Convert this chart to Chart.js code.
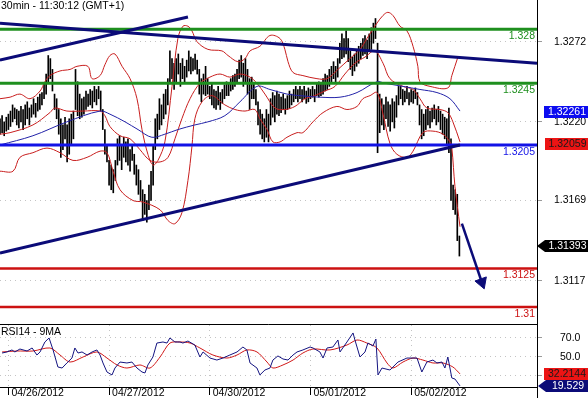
<!DOCTYPE html>
<html><head><meta charset="utf-8">
<script src="https://cdn.jsdelivr.net/npm/chart.js@4.4.0/dist/chart.umd.min.js"></script>
<style>
html,body{margin:0;padding:0;background:#fff;}
#wrap{position:relative;width:588px;height:398px;overflow:hidden;background:#fff;}
#c1{position:absolute;left:0;top:0;}
#c2{position:absolute;left:0;top:325px;}
</style></head><body>
<div id="wrap">
<canvas id="c1" width="588" height="325"></canvas>
<canvas id="c2" width="588" height="73"></canvas>
</div>
<script>
// ---------------- DATA ----------------
const chartTitle = '30min - 11:30:12 (GMT+1)';
const rsiTitle = 'RSI14 - 9MA';
const dayTickBars = [4, 52, 100, 148, 196];
const dayLabels = ['04/26/2012', '04/27/2012', '04/30/2012', '05/01/2012', '05/02/2012'];
const priceTicks = [1.3117, 1.3169, 1.3220, 1.3272];
const rsiTicks = [30, 50, 70];

const barHigh = [
1.3222,1.3224,1.3220,1.3223,1.3225,1.3227,1.3231,1.3229,1.3228,1.3227,
1.3230,1.3228,1.3231,1.3233,1.3229,1.3231,1.3235,1.3232,1.3236,1.3238,
1.3239,1.3245,1.3251,1.3263,1.3261,1.3254,1.3238,1.3235,1.3228,1.3222,
1.3218,1.3223,1.3218,1.3222,1.3225,1.3227,1.3254,1.3246,1.3238,1.3235,
1.3236,1.3240,1.3238,1.3241,1.3240,1.3243,1.3241,1.3243,1.3240,1.3228,
1.3215,1.3205,1.3195,1.3192,1.3189,1.3195,1.3209,1.3211,1.3205,1.3210,
1.3207,1.3209,1.3202,1.3205,1.3199,1.3192,1.3189,1.3182,1.3176,1.3173,
1.3169,1.3179,1.3188,1.3205,1.3222,1.3225,1.3235,1.3231,1.3238,1.3241,
1.3248,1.3266,1.3261,1.3258,1.3261,1.3264,1.3258,1.3261,1.3256,1.3260,
1.3266,1.3262,1.3261,1.3264,1.3260,1.3254,1.3248,1.3251,1.3256,1.3248,
1.3243,1.3245,1.3241,1.3240,1.3243,1.3239,1.3241,1.3244,1.3246,1.3245,
1.3248,1.3250,1.3251,1.3254,1.3260,1.3263,1.3258,1.3261,1.3254,1.3248,
1.3249,1.3245,1.3241,1.3233,1.3228,1.3225,1.3222,1.3228,1.3225,1.3235,
1.3239,1.3237,1.3240,1.3238,1.3236,1.3238,1.3235,1.3237,1.3240,1.3238,
1.3241,1.3243,1.3241,1.3243,1.3241,1.3243,1.3240,1.3242,1.3241,1.3243,
1.3241,1.3245,1.3246,1.3245,1.3248,1.3251,1.3250,1.3254,1.3256,1.3259,
1.3256,1.3261,1.3271,1.3277,1.3274,1.3279,1.3274,1.3266,1.3262,1.3264,
1.3267,1.3269,1.3271,1.3274,1.3276,1.3273,1.3277,1.3281,1.3284,1.3287,
1.3271,1.3238,1.3235,1.3231,1.3236,1.3233,1.3231,1.3235,1.3233,1.3237,
1.3243,1.3243,1.3241,1.3240,1.3243,1.3239,1.3241,1.3240,1.3242,1.3239,
1.3231,1.3228,1.3225,1.3228,1.3230,1.3227,1.3229,1.3231,1.3228,1.3230,
1.3227,1.3225,1.3223,1.3222,1.3229,1.3209,1.3179,1.3176,1.3173,1.3146
];
const barLow = [
1.3212,1.3213,1.3211,1.3214,1.3215,1.3217,1.3220,1.3222,1.3218,1.3216,
1.3220,1.3215,1.3218,1.3222,1.3218,1.3223,1.3225,1.3223,1.3227,1.3228,
1.3231,1.3235,1.3238,1.3245,1.3248,1.3240,1.3228,1.3222,1.3212,1.3197,
1.3202,1.3209,1.3194,1.3199,1.3205,1.3209,1.3228,1.3224,1.3222,1.3223,
1.3225,1.3228,1.3230,1.3231,1.3229,1.3233,1.3231,1.3235,1.3227,1.3215,
1.3199,1.3194,1.3179,1.3176,1.3174,1.3182,1.3192,1.3195,1.3189,1.3197,
1.3194,1.3192,1.3188,1.3195,1.3186,1.3179,1.3173,1.3169,1.3156,1.3160,
1.3155,1.3163,1.3169,1.3179,1.3202,1.3209,1.3215,1.3218,1.3222,1.3225,
1.3231,1.3246,1.3248,1.3241,1.3245,1.3251,1.3243,1.3248,1.3245,1.3249,
1.3253,1.3251,1.3253,1.3254,1.3251,1.3238,1.3233,1.3238,1.3237,1.3238,
1.3235,1.3231,1.3229,1.3228,1.3231,1.3228,1.3232,1.3235,1.3237,1.3237,
1.3240,1.3241,1.3243,1.3245,1.3248,1.3249,1.3243,1.3246,1.3238,1.3228,
1.3235,1.3235,1.3231,1.3218,1.3212,1.3209,1.3207,1.3210,1.3207,1.3218,
1.3223,1.3220,1.3225,1.3224,1.3226,1.3228,1.3225,1.3228,1.3229,1.3231,
1.3233,1.3235,1.3233,1.3235,1.3233,1.3235,1.3232,1.3233,1.3235,1.3236,
1.3233,1.3237,1.3236,1.3237,1.3238,1.3240,1.3241,1.3243,1.3245,1.3248,
1.3246,1.3249,1.3258,1.3261,1.3262,1.3264,1.3259,1.3254,1.3250,1.3253,
1.3256,1.3258,1.3261,1.3263,1.3264,1.3261,1.3266,1.3267,1.3271,1.3274,
1.3200,1.3213,1.3218,1.3215,1.3222,1.3217,1.3214,1.3220,1.3216,1.3223,
1.3231,1.3235,1.3231,1.3233,1.3235,1.3231,1.3233,1.3232,1.3235,1.3231,
1.3218,1.3209,1.3211,1.3215,1.3218,1.3216,1.3220,1.3222,1.3218,1.3220,
1.3215,1.3212,1.3209,1.3205,1.3200,1.3169,1.3163,1.3160,1.3143,1.3133
];

const bbUpper = [[0,1.3235],[4.8,1.3236],[9.5,1.3238],[14.3,1.3235],[19.1,1.3240],[21.4,1.3246],[23.8,1.3250],[28.6,1.3253],[33.4,1.3254],[36.7,1.3256],[41.9,1.3256],[43.9,1.3248],[47.7,1.3250],[50,1.3257],[52.4,1.3263],[54.8,1.3264],[58.2,1.3256],[62,1.3248],[65.3,1.3235],[67.7,1.3215],[70.5,1.3199],[72.9,1.3192],[75.3,1.3195],[78.6,1.3207],[82,1.3243],[84.8,1.3274],[87.2,1.3282],[89.6,1.3282],[91.5,1.3279],[93.9,1.3272],[99.1,1.3267],[105.8,1.3266],[108.7,1.3263],[113.4,1.3259],[116.8,1.3261],[119.2,1.3266],[123.9,1.3269],[128.7,1.3276],[133.5,1.3274],[135.8,1.3267],[137.3,1.3259],[139.7,1.3252],[144.4,1.3250],[151.1,1.3248],[155.9,1.3248],[161.1,1.3254],[166.8,1.3261],[171.6,1.3267],[174.9,1.3274],[177.3,1.3279],[179.7,1.3284],[182.6,1.3289],[184.9,1.3291],[187.3,1.3289],[190.7,1.3282],[194,1.3279],[196.9,1.3269],[199.2,1.3256],[200.2,1.3246],[205,1.3243],[213.5,1.3242],[215.4,1.3250],[218.3,1.3262]];
const bbMiddle = [[0,1.3212],[4.8,1.3213],[15.7,1.3218],[23.8,1.3226],[26.2,1.3229],[31.9,1.3227],[39.6,1.3227],[47.7,1.3227],[50,1.3224],[52.4,1.3217],[57.2,1.3211],[62,1.3209],[66.7,1.3202],[71.5,1.3195],[76.3,1.3194],[80.1,1.3197],[83.4,1.3209],[86.7,1.3222],[90.6,1.3235],[95.3,1.3245],[100.1,1.3249],[104.9,1.3251],[109.6,1.3249],[114.4,1.3251],[119.2,1.3249],[122.5,1.3245],[126.3,1.3238],[131.1,1.3229],[135.8,1.3228],[140.6,1.3230],[145.4,1.3235],[150.1,1.3237],[154.9,1.3240],[159.7,1.3243],[164.4,1.3251],[169.2,1.3258],[174,1.3262],[178.7,1.3266],[182.6,1.3258],[185.9,1.3248],[192.1,1.3243],[196.9,1.3241],[200.2,1.3235],[203.5,1.3229],[209.7,1.3228],[213.5,1.3226],[215.9,1.3220],[219.3,1.3207]];
const bbLower = [[0,1.3188],[6.2,1.3188],[9.5,1.3197],[15.7,1.3200],[22.4,1.3203],[28.6,1.3200],[34.8,1.3195],[41.5,1.3197],[47.7,1.3201],[51,1.3200],[53.9,1.3188],[57.2,1.3176],[63.4,1.3169],[68.2,1.3168],[76.3,1.3163],[80.1,1.3156],[83.4,1.3154],[86.7,1.3161],[89.6,1.3182],[91.5,1.3204],[92.9,1.3222],[96.3,1.3233],[101,1.3237],[107.2,1.3231],[112,1.3228],[116.8,1.3227],[121.5,1.3228],[123.9,1.3222],[127.3,1.3215],[130.1,1.3207],[133.5,1.3207],[136.8,1.3210],[141.6,1.3213],[144.4,1.3213],[149.2,1.3220],[154,1.3226],[160.6,1.3230],[165.4,1.3228],[170.2,1.3230],[173,1.3235],[176.4,1.3237],[179.7,1.3239],[182.6,1.3225],[185.9,1.3206],[189.2,1.3199],[194,1.3197],[196.9,1.3201],[201.6,1.3213],[206.4,1.3214],[211.2,1.3212],[214.5,1.3207],[215.4,1.3203],[216.9,1.3178],[219.3,1.3152]];
const maBlue = [[0,1.3205],[15.7,1.3211],[31.9,1.3220],[47.7,1.3227],[52.4,1.3225],[59.6,1.3220],[65.8,1.3215],[72.4,1.3210],[78.6,1.3212],[84.8,1.3215],[92.9,1.3218],[99.1,1.3220],[107.2,1.3224],[114.4,1.3233],[122.5,1.3243],[128.7,1.3241],[136.8,1.3238],[143,1.3237],[152.5,1.3236],[162.1,1.3236],[170.2,1.3239],[179.7,1.3246],[183.5,1.3245],[192.1,1.3243],[200.2,1.3241],[208.3,1.3239],[214.5,1.3235],[219.3,1.3227]];

const levelValues = [1.328, 1.3245, 1.3205, 1.3125, 1.31];
const levelLabels = ['1.328', '1.3245', '1.3205', '1.3125', '1.31'];
const trendDown = [[0,1.3284],[256,1.3258]];
const trendUpLow = [[0,1.3135],[219.3,1.3205]];
const trendUpHigh = [[0,1.3260],[89.6,1.3288]];
const arrowPath = [[220.2,1.3154],[229.7,1.3116]];
const lastMarkers = {blueMark: 1.32261, redMark: 1.32059, lastPrice: 1.31393};

const rsi = [[1,54.2],[3.3,55.3],[5.7,57.4],[7.1,55.3],[9.5,58.4],[12.9,56.3],[15.3,59.5],[17.6,52.1],[19.1,55.3],[21.4,65.8],[23.4,70.0],[25.3,57.4],[27.6,39.5],[29.6,38.4],[31.9,43.7],[34.3,48.9],[35.7,59.5],[37.2,54.2],[39.1,55.3],[41.5,52.1],[43.9,55.3],[46.2,57.4],[47.7,52.1],[49.1,43.7],[51,34.2],[53.4,31.1],[54.8,38.4],[57.2,44.7],[60.5,43.7],[62.9,44.7],[65.3,38.4],[67.7,34.2],[69.1,33.2],[70.5,41.6],[72.9,50.0],[74.8,64.7],[77.7,65.8],[79.6,64.7],[81,70.0],[83.4,65.8],[85.8,65.8],[87.2,64.7],[89.6,66.8],[92.9,62.6],[95.3,50.0],[96.8,55.3],[100.1,48.9],[103.4,46.8],[106.3,48.9],[109.6,52.1],[113,55.3],[115.8,60.5],[117.7,57.4],[119.2,43.7],[122.5,38.4],[123.9,31.1],[126.3,36.3],[128.7,38.4],[130.1,46.8],[132.5,51.1],[134.9,47.9],[137.3,46.8],[139.7,52.1],[141.6,55.3],[144.4,57.4],[147.8,60.5],[149.2,59.5],[152.5,55.3],[154,48.9],[155.9,59.5],[158.7,60.5],[161.1,67.9],[162.1,55.3],[165.4,65.8],[168.3,75.3],[169.2,67.9],[171.6,50.0],[174,55.3],[175.4,64.7],[177.8,61.6],[179.2,68.9],[180.2,31.1],[182.1,38.4],[185.9,36.3],[189.7,44.7],[194,48.9],[198.8,48.9],[201.1,34.2],[203.5,44.7],[206.4,46.8],[208.3,43.7],[210.7,44.7],[212.1,38.4],[213.5,50.0],[215.4,27.9],[216.9,26.8],[218.3,22.6],[219.3,19.529]];
const rsiMA = [[1,55.3],[8.1,56.3],[15.7,56.3],[23.8,59.5],[28.6,52.1],[33.4,44.7],[39.6,50.0],[46.2,55.3],[51,48.9],[55.8,41.6],[60.5,38.4],[66.7,41.6],[71.5,38.4],[76.3,50.0],[81,64.7],[85.8,65.8],[90.6,64.7],[95.3,59.5],[101.5,52.1],[108.2,48.9],[113,52.1],[117.7,57.4],[122.5,55.3],[127.3,44.7],[130.1,38.4],[134.9,41.6],[139.7,46.8],[144.4,54.2],[149.2,58.4],[157.3,57.4],[165.4,62.6],[170.2,67.9],[174.9,64.7],[179.7,59.5],[184.5,43.7],[187.3,38.4],[192.1,44.7],[196.9,48.9],[201.6,46.8],[206.4,43.7],[211.2,43.7],[215.9,39.5],[219.3,32.2144]];
const rsiLastValues = {rsi: 19.529, ma: 32.2144};

// ---------------- STYLE ----------------
const FONT = "10.5px 'Liberation Sans', Arial, sans-serif";
Chart.defaults.font.family = "'Liberation Sans', Arial, sans-serif";
Chart.defaults.font.size = 10.5;
Chart.defaults.color = '#000';
const X_MIN = 0, X_MAX = 256;
const levelColors = ['#1e8f1e', '#1e8f1e', '#1212e6', '#cc1111', '#cc1111'];
const levelWidths = [3, 3, 3, 2.5, 2.5];
const NAVY = '#0b0b78';
const pts = a => a.map(([x, y]) => ({x, y}));

function tagBox(ctx, yC, text, fill, textColor, bodyLeft, tipX) {
  const right = 588, h = 12, top = Math.round(yC - h / 2);
  ctx.save();
  ctx.fillStyle = fill;
  ctx.beginPath();
  if (tipX != null) {
    ctx.moveTo(tipX, top + h / 2);
    ctx.lineTo(bodyLeft, top);
    ctx.lineTo(right, top);
    ctx.lineTo(right, top + h);
    ctx.lineTo(bodyLeft, top + h);
  } else {
    ctx.rect(bodyLeft, top, right - bodyLeft, h);
  }
  ctx.closePath();
  ctx.fill();
  ctx.fillStyle = textColor;
  ctx.font = FONT;
  ctx.textAlign = 'center';
  ctx.textBaseline = 'middle';
  ctx.fillText(text, (bodyLeft + right) / 2 + 1, top + h / 2 + 0.5);
  ctx.restore();
}

// ---------------- MAIN CHART ----------------
const lineDs = (data, color, width, order, extra) => Object.assign({
  type: 'line', data: pts(data), borderColor: color, borderWidth: width,
  pointRadius: 0, fill: false, order: order, tension: 0
}, extra || {});

const mainDatasets = [
  {type: 'bar', data: barHigh.map((h, i) => ({x: i, y: [barLow[i], h]})),
   backgroundColor: '#000', borderWidth: 0, barThickness: 1, order: 20, grouped: false},
  lineDs(bbUpper, '#c81e1e', 1, 15, {tension: 0.35}),
  lineDs(bbMiddle, '#c81e1e', 1, 15, {tension: 0.35}),
  lineDs(bbLower, '#c81e1e', 1, 15, {tension: 0.35}),
  lineDs(maBlue, '#2222a8', 1, 14, {tension: 0.35}),
];
levelValues.forEach((v, k) => {
  mainDatasets.push(lineDs([[X_MIN, v], [X_MAX, v]], levelColors[k], levelWidths[k], 5));
});
mainDatasets.push(lineDs(trendDown, NAVY, 3, 3));
mainDatasets.push(lineDs(trendUpLow, NAVY, 3, 3));
mainDatasets.push(lineDs(trendUpHigh, NAVY, 3, 3));
mainDatasets.push(lineDs(arrowPath, NAVY, 2.5, 2, {
  pointRadius: [0, 7], pointStyle: 'triangle', pointRotation: 160,
  pointBackgroundColor: NAVY, pointBorderColor: NAVY, pointBorderWidth: 1
}));

const mainPlugin = {
  id: 'mainDecor',
  afterDraw(chart) {
    const {ctx, scales: {y}, chartArea} = chart;
    ctx.save();
    ctx.font = FONT; ctx.fillStyle = '#000'; ctx.textAlign = 'left'; ctx.textBaseline = 'middle';
    ctx.fillText(chartTitle, 1, 6);
    ctx.textAlign = 'right';
    levelValues.forEach((v, k) => {
      ctx.fillStyle = levelColors[k];
      ctx.fillText(levelLabels[k], chartArea.right - 2, y.getPixelForValue(v) + 7);
    });
    ctx.strokeStyle = '#000'; ctx.lineWidth = 1;
    ctx.beginPath(); ctx.moveTo(0, 324.5); ctx.lineTo(chartArea.right + 0.5, 324.5); ctx.stroke();
    ctx.restore();
    tagBox(ctx, y.getPixelForValue(lastMarkers.blueMark), '1.32261', '#0c0cf0', '#fff', 544);
    tagBox(ctx, y.getPixelForValue(lastMarkers.redMark), '1.32059', '#ec1414', '#1a1a1a', 545);
    tagBox(ctx, y.getPixelForValue(lastMarkers.lastPrice), '1.31393', '#000', '#fff', 545, 537);
  }
};

new Chart(document.getElementById('c1'), {
  type: 'bar',
  data: {datasets: mainDatasets},
  options: {
    responsive: false, animation: false, events: [],
    layout: {padding: 0, autoPadding: false},
    plugins: {legend: {display: false}, tooltip: {enabled: false}},
    scales: {
      x: {type: 'linear', min: X_MIN, max: X_MAX, offset: false, display: false},
      y: {
        position: 'right', min: 1.30883, max: 1.3299,
        afterBuildTicks: s => { s.ticks = priceTicks.map(v => ({value: v})); },
        afterFit: s => { s.width = 51; s.paddingTop = 0; s.paddingBottom = 0; },
        ticks: {padding: 12, callback: v => v.toFixed(4), font: {size: 10.5}},
        grid: {color: '#c4c4c4', tickColor: '#9a9a9a', tickLength: 5, lineWidth: 1},
        border: {color: '#000', dash: [1, 4]}
      }
    }
  },
  plugins: [mainPlugin]
});

// ---------------- RSI CHART ----------------
const rsiPlugin = {
  id: 'rsiDecor',
  afterDraw(chart) {
    const {ctx, scales: {x, y}, chartArea} = chart;
    ctx.save();
    ctx.font = FONT; ctx.fillStyle = '#000'; ctx.textBaseline = 'middle'; ctx.textAlign = 'left';
    ctx.fillText(rsiTitle, 1, 7.5);
    dayTickBars.forEach((b, k) => {
      ctx.fillText(dayLabels[k], x.getPixelForValue(b) + 3, 68.5);
    });
    ctx.strokeStyle = '#000'; ctx.lineWidth = 1;
    ctx.beginPath(); ctx.moveTo(chartArea.right + 0.5, chartArea.bottom); ctx.lineTo(chartArea.right + 0.5, 73); ctx.stroke();
    ctx.restore();
    tagBox(ctx, y.getPixelForValue(rsiLastValues.ma), '32.2144', '#ec1414', '#1a1a1a', 544);
    tagBox(ctx, y.getPixelForValue(rsiLastValues.rsi), '19.529', NAVY, '#fff', 546, 538);
  }
};

new Chart(document.getElementById('c2'), {
  type: 'line',
  data: {datasets: [
    {data: pts(rsi), borderColor: '#141480', borderWidth: 1, pointRadius: 0, tension: 0, order: 1},
    {data: pts(rsiMA), borderColor: '#d01818', borderWidth: 1, pointRadius: 0, tension: 0.3, order: 2}
  ]},
  options: {
    responsive: false, animation: false, events: [],
    layout: {padding: 0, autoPadding: false},
    plugins: {legend: {display: false}, tooltip: {enabled: false}},
    scales: {
      x: {
        type: 'linear', min: X_MIN, max: X_MAX, offset: false,
        afterBuildTicks: s => { s.ticks = dayTickBars.map(v => ({value: v})); },
        afterFit: s => { s.height = 11; s.paddingLeft = 0; s.paddingRight = 0; },
        ticks: {display: false},
        grid: {color: '#c4c4c4', tickColor: '#000', tickLength: 8},
        border: {color: '#000', dash: [1, 4]}
      },
      y: {
        position: 'right', min: 18.42, max: 83.68,
        afterBuildTicks: s => { s.ticks = rsiTicks.map(v => ({value: v})); },
        afterFit: s => { s.width = 51; s.paddingTop = 0; s.paddingBottom = 0; },
        ticks: {padding: 18, callback: v => (v === 30 ? '' : v.toFixed(1))},
        grid: {color: '#c4c4c4', tickColor: '#9a9a9a', tickLength: 5},
        border: {color: '#000', dash: [1, 4]}
      }
    }
  },
  plugins: [rsiPlugin]
});
</script>
</body></html>
